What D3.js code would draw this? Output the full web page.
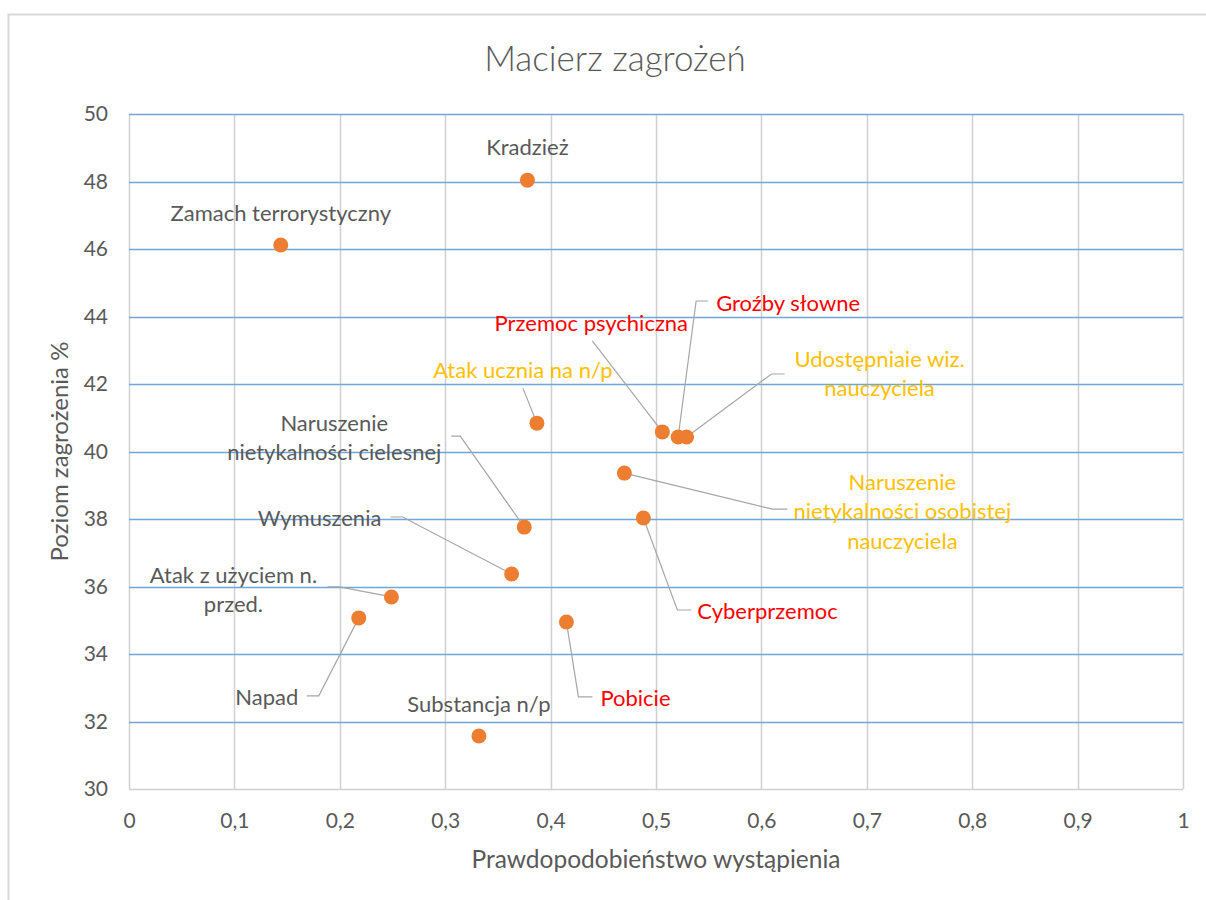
<!DOCTYPE html>
<html lang="pl">
<head>
<meta charset="utf-8">
<script src="https://cdn.jsdelivr.net/npm/d3@7"></script>
<style>
  body { margin: 0; background: #fff; }
  svg { display: block; font-family: Lato, "Open Sans", sans-serif; }
</style>
</head>
<body>
<div id="chart"></div>
<script>
"use strict";
const margin = {top: 114, right: 23, bottom: 111, left: 129}; // px
const W = 1206, H = 900; // px

// threats
const threats = [
    "Kradzież",
    "Zamach terrorystyczny",
    "Atak ucznia na n/p",
    "Przemoc psychiczna",
    "Groźby słowne",
    "Udostępniaie wiz.|nauczyciela",
    "Naruszenie|nietykalności osobistej|nauczyciela",
    "Cyberprzemoc",
    "Naruszenie|nietykalności cielesnej",
    "Wymuszenia",
    "Atak z użyciem n.|przed.",
    "Napad",
    "Pobicie",
    "Substancja n/p"
];
// x: prawdopodobieństwo
const probability = [0.378, 0.144, 0.387, 0.506, 0.521, 0.529, 0.470, 0.488, 0.375, 0.363, 0.249, 0.218, 0.415, 0.332];
// y: poziom zagrożenia %
const threatLevel = [48.04, 46.12, 40.84, 40.58, 40.43, 40.43, 39.36, 38.03, 37.76, 36.37, 35.69, 35.07, 34.95, 31.57];
// label group: 0 grey, 1 red, 2 yellow
const labelGroup = [0, 0, 2, 1, 1, 2, 2, 1, 0, 0, 0, 0, 1, 0];

const xTicks = [0, 0.1, 0.2, 0.3, 0.4, 0.5, 0.6, 0.7, 0.8, 0.9, 1];
const yTicks = [30, 32, 34, 36, 38, 40, 42, 44, 46, 48, 50];

const groupColors = ["#595959", "#ff0000", "#ffc000"];

// label placement relative to the point (px): text offset, anchor, leader line
const labelLayout = [
    {dx: 0, dy: -33, anchor: "middle"},
    {dx: 0, dy: -32, anchor: "middle"},
    {dx: -14, dy: -53, anchor: "middle", leader: [[-14, -35], [0, 0]]},
    {dx: -71, dy: -109, anchor: "middle", leader: [[-70, -91], [0, 0]]},
    {dx: 38, dy: -134, anchor: "start", leader: [[30, -136], [18, -136], [0, 0]]},
    {dx: 193, dy: -78, anchor: "middle", leader: [[98, -63], [85, -63], [0, 0]]},
    {dx: 278, dy: 9, anchor: "middle", leader: [[163, 36], [148, 36], [0, 0]]},
    {dx: 54, dy: 93, anchor: "start", leader: [[48, 92], [34, 92], [0, 0]]},
    {dx: -190, dy: -104, anchor: "middle", leader: [[-73, -91], [-64, -91], [0, 0]]},
    {dx: -192, dy: -56, anchor: "middle", leader: [[-121, -57], [-109, -57], [0, 0]]},
    {dx: -158, dy: -22, anchor: "middle", leader: [[-64, -10], [-52, -10], [0, 0]]},
    {dx: -92, dy: 79, anchor: "middle", leader: [[-52, 78], [-40, 78], [0, 0]]},
    {dx: 34, dy: 76, anchor: "start", leader: [[26, 75], [12, 75], [0, 0]]},
    {dx: 0, dy: -32, anchor: "middle"}
];

const data = threats.map((name, i) => ({
    name, x: probability[i], y: threatLevel[i], group: labelGroup[i], layout: labelLayout[i]
}));

const width = W - margin.left - margin.right;
const height = H - margin.top - margin.bottom;

const x = d3.scaleLinear().domain([0, 1]).range([margin.left, margin.left + width]);
const y = d3.scaleLinear().domain([30, 50]).range([margin.top + height, margin.top]);

const svg = d3.select("#chart").append("svg").attr("width", W).attr("height", H);

// outer chart frame
svg.append("path")
    .attr("d", `M8.5,${H}V14.5H${W}`)
    .attr("fill", "none")
    .attr("stroke", "#d9d9d9")
    .attr("stroke-width", 2);

svg.append("text")
    .attr("x", W / 2 + 12)
    .attr("y", 71)
    .attr("text-anchor", "middle")
    .attr("fill", "#595959")
    .style("font-size", "35px")
    .style("font-weight", 300)
    .text("Macierz zagrożeń");

// vertical grid
svg.append("g")
    .selectAll("line")
    .data(xTicks)
    .join("line")
    .attr("x1", (d) => Math.round(x(d)) + 0.5)
    .attr("x2", (d) => Math.round(x(d)) + 0.5)
    .attr("y1", y(50))
    .attr("y2", y(30))
    .attr("stroke", "#d0d0d0")
    .attr("stroke-width", 1.5);

// horizontal grid
svg.append("g")
    .selectAll("line")
    .data(yTicks.filter((d) => d > 30))
    .join("line")
    .attr("x1", x(0))
    .attr("x2", x(1))
    .attr("y1", (d) => Math.round(y(d)) + 0.5)
    .attr("y2", (d) => Math.round(y(d)) + 0.5)
    .attr("stroke", "#6fa6dc")
    .attr("stroke-width", 1.5);

// bottom axis line
svg.append("line")
    .attr("x1", x(0)).attr("x2", x(1))
    .attr("y1", y(30) + 0.5).attr("y2", y(30) + 0.5)
    .attr("stroke", "#d0d0d0")
    .attr("stroke-width", 1.5);

const yAxis = d3.axisLeft(y).tickValues(yTicks).tickSize(0).tickPadding(21).tickFormat(d3.format("d"));
svg.append("g")
    .attr("transform", `translate(${x(0)},0)`)
    .call(yAxis)
    .call((g) => g.select(".domain").remove())
    .call((g) => g.selectAll("text").attr("fill", "#595959").style("font-size", "21px").style("font-family", "Lato, sans-serif"));

const xAxis = d3.axisBottom(x).tickValues(xTicks).tickSize(0).tickPadding(24)
    .tickFormat((d) => String(d).replace(".", ","));
svg.append("g")
    .attr("transform", `translate(0,${y(30)})`)
    .call(xAxis)
    .call((g) => g.select(".domain").remove())
    .call((g) => g.selectAll("text").attr("fill", "#595959").style("font-size", "21px").style("font-family", "Lato, sans-serif"));

// axis titles
svg.append("text")
    .attr("x", x(0.5))
    .attr("y", 868)
    .attr("text-anchor", "middle")
    .attr("fill", "#595959")
    .style("font-size", "24.5px")
    .text("Prawdopodobieństwo wystąpienia");

svg.append("text")
    .attr("transform", `translate(68,${y(40)}) rotate(-90)`)
    .attr("text-anchor", "middle")
    .attr("fill", "#595959")
    .style("font-size", "24px")
    .text("Poziom zagrożenia %");

// leader lines
const line = d3.line();
svg.append("g")
    .selectAll("path")
    .data(data.filter((d) => d.layout.leader))
    .join("path")
    .attr("d", (d) => line(d.layout.leader.map(([dx, dy]) => [x(d.x) + dx, y(d.y) + dy])))
    .attr("fill", "none")
    .attr("stroke", "#a6a6a6")
    .attr("stroke-width", 1.2);

// points
svg.append("g")
    .selectAll("circle")
    .data(data)
    .join("circle")
    .attr("cx", (d) => x(d.x))
    .attr("cy", (d) => y(d.y))
    .attr("r", 7.5)
    .attr("fill", "#ed7d31");

// labels
const lineStep = 29.5;
svg.append("g")
    .selectAll("text")
    .data(data)
    .join("text")
    .attr("x", (d) => x(d.x) + d.layout.dx)
    .attr("y", (d) => y(d.y) + d.layout.dy)
    .attr("text-anchor", (d) => d.layout.anchor)
    .attr("fill", (d) => groupColors[d.group])
    .style("font-size", "22px")
    .each(function (d) {
        const parts = d.name.split("|");
        d3.select(this)
            .selectAll("tspan")
            .data(parts)
            .join("tspan")
            .attr("x", x(d.x) + d.layout.dx)
            .attr("dy", (p, i) => (i === 0 ? "0.35em" : lineStep))
            .text((p) => p);
    });
</script>
</body>
</html>
